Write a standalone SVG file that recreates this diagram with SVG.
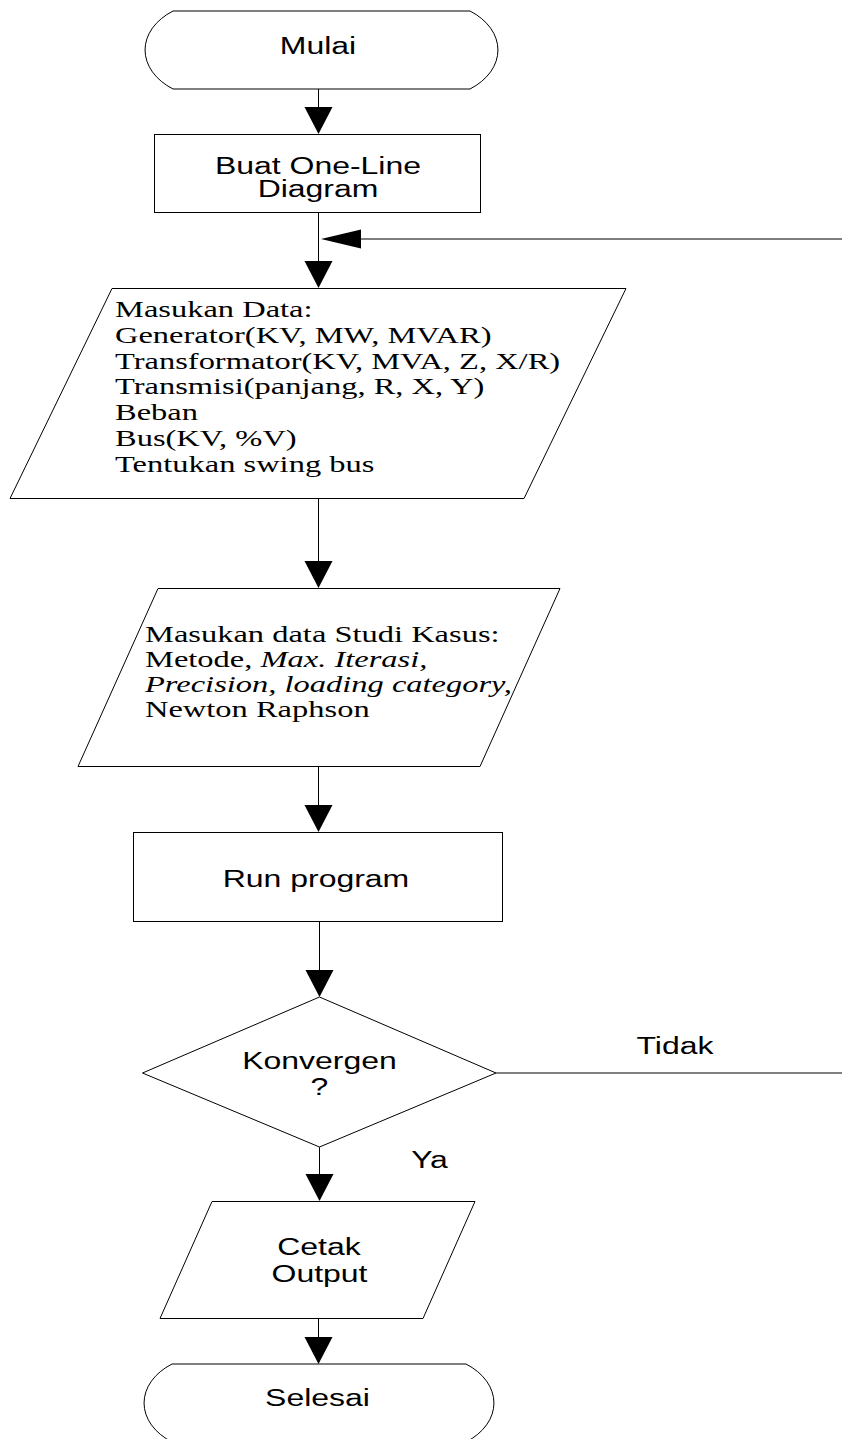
<svg xmlns="http://www.w3.org/2000/svg" width="842" height="1439" viewBox="0 0 842 1439">
<style>
.s{fill:#fff;stroke:#000;stroke-width:1}
.c{fill:none;stroke:#000;stroke-width:1}
.ah{fill:#000;stroke:none}
.sans{font-family:"Liberation Sans",Arial,sans-serif;font-size:23px;fill:#000}
.serif{font-family:"Liberation Serif","Times New Roman",serif;font-size:22.5px;fill:#000}
.it{font-style:italic}
</style>
<defs>
<path id="ahd" d="M-14,-27 L14,-27 L0,0 Z"/>
</defs>
<rect width="842" height="1439" fill="#fff"/>

<g id="connectors">
<line class="c" x1="318.5" y1="89" x2="318.5" y2="108"/>
<use href="#ahd" class="ah" x="318.5" y="134"/>
<line class="c" x1="318.5" y1="212" x2="318.5" y2="262"/>
<use href="#ahd" class="ah" x="318.5" y="288"/>
<line class="c" x1="842" y1="239" x2="361" y2="239"/>
<polygon class="ah" points="361,229.5 361,248.5 321,239"/>
<line class="c" x1="318.5" y1="498" x2="318.5" y2="562"/>
<use href="#ahd" class="ah" x="318.5" y="588"/>
<line class="c" x1="318.5" y1="766" x2="318.5" y2="806"/>
<use href="#ahd" class="ah" x="318.5" y="832"/>
<line class="c" x1="319.5" y1="921" x2="319.5" y2="971"/>
<use href="#ahd" class="ah" x="319.5" y="997"/>
<line class="c" x1="496" y1="1073" x2="842" y2="1073"/>
<line class="c" x1="319.5" y1="1147" x2="319.5" y2="1175"/>
<use href="#ahd" class="ah" x="319.5" y="1201"/>
<line class="c" x1="318.5" y1="1318" x2="318.5" y2="1338"/>
<use href="#ahd" class="ah" x="318.5" y="1364"/>
<text class="sans" transform="translate(675,1054) scale(1.39,1)" text-anchor="middle">Tidak</text>
<text class="sans" transform="translate(429.5,1168) scale(1.39,1)" text-anchor="middle">Ya</text>
</g>

<g id="start">
<path class="s" d="M173,11 H470 A67,48 0 0 1 470,89 H173 A67,48 0 0 1 173,11 Z"/>
<text class="sans" transform="translate(318,54) scale(1.39,1)" text-anchor="middle">Mulai</text>
</g>

<g id="one-line">
<rect class="s" x="154.5" y="134.5" width="326" height="78"/>
<text class="sans" transform="translate(318,174) scale(1.39,1)" text-anchor="middle">Buat One-Line</text>
<text class="sans" transform="translate(318,197) scale(1.39,1)" text-anchor="middle">Diagram</text>
</g>

<g id="input-data">
<polygon class="s" points="112,288.5 626,288.5 524,498.5 10,498.5"/>
<text class="serif" transform="translate(115,317) scale(1.444,1)">Masukan Data:</text>
<text class="serif" transform="translate(115,342.75) scale(1.444,1)">Generator(KV, MW, MVAR)</text>
<text class="serif" transform="translate(115,368.5) scale(1.444,1)">Transformator(KV, MVA, Z, X/R)</text>
<text class="serif" transform="translate(115,394.25) scale(1.444,1)">Transmisi(panjang, R, X, Y)</text>
<text class="serif" transform="translate(115,420) scale(1.444,1)">Beban</text>
<text class="serif" transform="translate(115,445.75) scale(1.444,1)">Bus(KV, %V)</text>
<text class="serif" transform="translate(115,471.5) scale(1.444,1)">Tentukan swing bus</text>
</g>

<g id="study-case">
<polygon class="s" points="158,588.5 560,588.5 480,766.5 78,766.5"/>
<text class="serif" transform="translate(145,642) scale(1.444,1)">Masukan data Studi Kasus:</text>
<text class="serif" transform="translate(145,667) scale(1.444,1)">Metode, <tspan class="it">Max. Iterasi,</tspan></text>
<text class="serif it" transform="translate(145,692) scale(1.444,1)">Precision, loading category,</text>
<text class="serif" transform="translate(145,717) scale(1.444,1)">Newton Raphson</text>
</g>

<g id="run">
<rect class="s" x="133.5" y="832.5" width="369" height="89"/>
<text class="sans" transform="translate(316,887) scale(1.39,1)" text-anchor="middle">Run program</text>
</g>

<g id="decision">
<polygon class="s" points="319.5,997 496,1073 319.5,1147 142.5,1073"/>
<text class="sans" transform="translate(319.5,1069) scale(1.39,1)" text-anchor="middle">Konvergen</text>
<text class="sans" transform="translate(319.5,1095) scale(1.39,1)" text-anchor="middle">?</text>
</g>

<g id="output">
<polygon class="s" points="212,1201.5 475,1201.5 423,1318.5 160,1318.5"/>
<text class="sans" transform="translate(319,1255) scale(1.39,1)" text-anchor="middle">Cetak</text>
<text class="sans" transform="translate(319.5,1282) scale(1.39,1)" text-anchor="middle">Output</text>
</g>

<g id="end">
<path class="s" d="M172,1364 H466 A67,48 0 0 1 466,1442 H172 A67,48 0 0 1 172,1364 Z"/>
<text class="sans" transform="translate(317.5,1406) scale(1.39,1)" text-anchor="middle">Selesai</text>
</g>
</svg>
